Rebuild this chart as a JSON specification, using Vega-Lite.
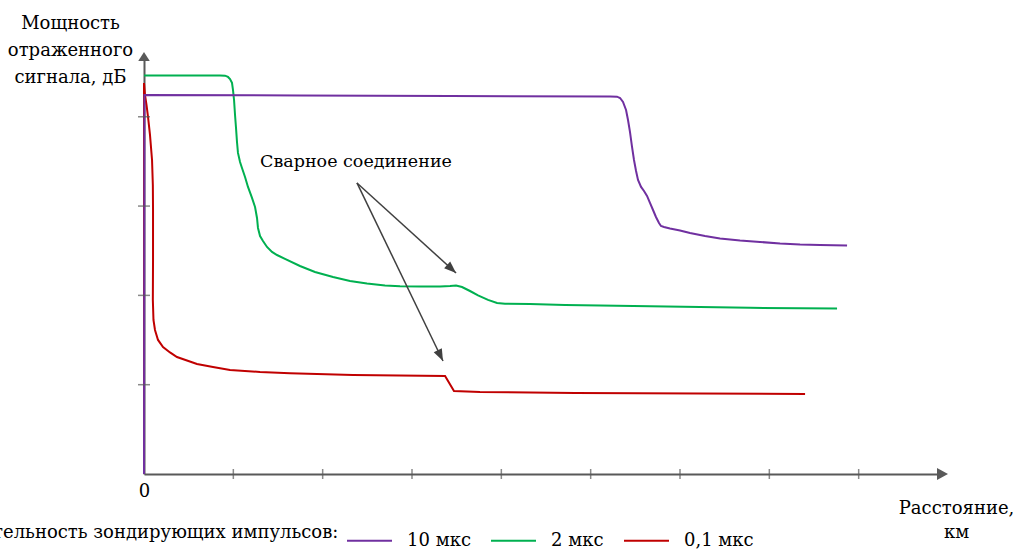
{
  "$schema": "https://vega.github.io/schema/vega-lite/v6.json",
  "width": 799,
  "height": 416,
  "autosize": {"type": "none"},
  "padding": {"left": 144, "top": 58, "right": 70, "bottom": 75},
  "background": "white",
  "config": {
    "view": {"stroke": null},
    "font": "DejaVu Serif",
    "text": {"font": "DejaVu Serif"}
  },
  "datasets": {
    "curves": [
      {"series": "2 мкс", "i": 0, "x": 0, "y": 4.462},
      {"series": "2 мкс", "i": 1, "x": 0.851, "y": 4.462},
      {"series": "2 мкс", "i": 2, "x": 0.907, "y": 4.46},
      {"series": "2 мкс", "i": 3, "x": 0.94, "y": 4.446},
      {"series": "2 мкс", "i": 4, "x": 0.963, "y": 4.423},
      {"series": "2 мкс", "i": 5, "x": 0.985, "y": 4.379},
      {"series": "2 мкс", "i": 6, "x": 0.996, "y": 4.3},
      {"series": "2 мкс", "i": 7, "x": 1.008, "y": 4.188},
      {"series": "2 мкс", "i": 8, "x": 1.019, "y": 4.02},
      {"series": "2 мкс", "i": 9, "x": 1.03, "y": 3.875},
      {"series": "2 мкс", "i": 10, "x": 1.041, "y": 3.718},
      {"series": "2 мкс", "i": 11, "x": 1.052, "y": 3.595},
      {"series": "2 мкс", "i": 12, "x": 1.075, "y": 3.494},
      {"series": "2 мкс", "i": 13, "x": 1.097, "y": 3.427},
      {"series": "2 мкс", "i": 14, "x": 1.131, "y": 3.326},
      {"series": "2 мкс", "i": 15, "x": 1.164, "y": 3.214},
      {"series": "2 мкс", "i": 16, "x": 1.209, "y": 3.091},
      {"series": "2 мкс", "i": 17, "x": 1.243, "y": 2.99},
      {"series": "2 мкс", "i": 18, "x": 1.265, "y": 2.867},
      {"series": "2 мкс", "i": 19, "x": 1.276, "y": 2.755},
      {"series": "2 мкс", "i": 20, "x": 1.299, "y": 2.665},
      {"series": "2 мкс", "i": 21, "x": 1.332, "y": 2.609},
      {"series": "2 мкс", "i": 22, "x": 1.377, "y": 2.542},
      {"series": "2 мкс", "i": 23, "x": 1.433, "y": 2.486},
      {"series": "2 мкс", "i": 24, "x": 1.489, "y": 2.452},
      {"series": "2 мкс", "i": 25, "x": 1.578, "y": 2.408},
      {"series": "2 мкс", "i": 26, "x": 1.746, "y": 2.329},
      {"series": "2 мкс", "i": 27, "x": 1.914, "y": 2.262},
      {"series": "2 мкс", "i": 28, "x": 2.116, "y": 2.206},
      {"series": "2 мкс", "i": 29, "x": 2.306, "y": 2.161},
      {"series": "2 мкс", "i": 30, "x": 2.496, "y": 2.133},
      {"series": "2 мкс", "i": 31, "x": 2.698, "y": 2.111},
      {"series": "2 мкс", "i": 32, "x": 2.866, "y": 2.102},
      {"series": "2 мкс", "i": 33, "x": 3.09, "y": 2.1},
      {"series": "2 мкс", "i": 34, "x": 3.314, "y": 2.1},
      {"series": "2 мкс", "i": 35, "x": 3.426, "y": 2.105},
      {"series": "2 мкс", "i": 36, "x": 3.493, "y": 2.111},
      {"series": "2 мкс", "i": 37, "x": 3.56, "y": 2.094},
      {"series": "2 мкс", "i": 38, "x": 3.649, "y": 2.049},
      {"series": "2 мкс", "i": 39, "x": 3.739, "y": 1.999},
      {"series": "2 мкс", "i": 40, "x": 3.851, "y": 1.949},
      {"series": "2 мкс", "i": 41, "x": 3.952, "y": 1.915},
      {"series": "2 мкс", "i": 42, "x": 4.041, "y": 1.906},
      {"series": "2 мкс", "i": 43, "x": 4.321, "y": 1.904},
      {"series": "2 мкс", "i": 44, "x": 4.713, "y": 1.893},
      {"series": "2 мкс", "i": 45, "x": 5.105, "y": 1.887},
      {"series": "2 мкс", "i": 46, "x": 5.664, "y": 1.878},
      {"series": "2 мкс", "i": 47, "x": 6.224, "y": 1.87},
      {"series": "2 мкс", "i": 48, "x": 6.784, "y": 1.861},
      {"series": "2 мкс", "i": 49, "x": 7.344, "y": 1.856},
      {"series": "2 мкс", "i": 50, "x": 7.758, "y": 1.853},

      {"series": "0,1 мкс", "i": 0, "x": 0, "y": 0},
      {"series": "0,1 мкс", "i": 1, "x": 0, "y": 4.378},
      {"series": "0,1 мкс", "i": 2, "x": 0.011, "y": 4.244},
      {"series": "0,1 мкс", "i": 3, "x": 0.028, "y": 4.132},
      {"series": "0,1 мкс", "i": 4, "x": 0.045, "y": 3.998},
      {"series": "0,1 мкс", "i": 5, "x": 0.067, "y": 3.797},
      {"series": "0,1 мкс", "i": 6, "x": 0.09, "y": 3.516},
      {"series": "0,1 мкс", "i": 7, "x": 0.099, "y": 3.236},
      {"series": "0,1 мкс", "i": 8, "x": 0.101, "y": 2.956},
      {"series": "0,1 мкс", "i": 9, "x": 0.101, "y": 2.396},
      {"series": "0,1 мкс", "i": 10, "x": 0.099, "y": 1.949},
      {"series": "0,1 мкс", "i": 11, "x": 0.106, "y": 1.725},
      {"series": "0,1 мкс", "i": 12, "x": 0.123, "y": 1.613},
      {"series": "0,1 мкс", "i": 13, "x": 0.157, "y": 1.501},
      {"series": "0,1 мкс", "i": 14, "x": 0.213, "y": 1.422},
      {"series": "0,1 мкс", "i": 15, "x": 0.291, "y": 1.361},
      {"series": "0,1 мкс", "i": 16, "x": 0.369, "y": 1.31},
      {"series": "0,1 мкс", "i": 17, "x": 0.481, "y": 1.271},
      {"series": "0,1 мкс", "i": 18, "x": 0.593, "y": 1.232},
      {"series": "0,1 мкс", "i": 19, "x": 0.772, "y": 1.198},
      {"series": "0,1 мкс", "i": 20, "x": 0.963, "y": 1.165},
      {"series": "0,1 мкс", "i": 21, "x": 1.299, "y": 1.142},
      {"series": "0,1 мкс", "i": 22, "x": 1.634, "y": 1.129},
      {"series": "0,1 мкс", "i": 23, "x": 2.34, "y": 1.109},
      {"series": "0,1 мкс", "i": 24, "x": 3.37, "y": 1.097},
      {"series": "0,1 мкс", "i": 25, "x": 3.47, "y": 0.929},
      {"series": "0,1 мкс", "i": 26, "x": 3.761, "y": 0.918},
      {"series": "0,1 мкс", "i": 27, "x": 4.825, "y": 0.907},
      {"series": "0,1 мкс", "i": 28, "x": 6.224, "y": 0.901},
      {"series": "0,1 мкс", "i": 29, "x": 7.4, "y": 0.896},

      {"series": "10 мкс", "i": 0, "x": 0, "y": 0},
      {"series": "10 мкс", "i": 1, "x": 0.005, "y": 4.244},
      {"series": "10 мкс", "i": 2, "x": 1.746, "y": 4.239},
      {"series": "10 мкс", "i": 3, "x": 3.426, "y": 4.233},
      {"series": "10 мкс", "i": 4, "x": 5.217, "y": 4.227},
      {"series": "10 мкс", "i": 5, "x": 5.295, "y": 4.225},
      {"series": "10 мкс", "i": 6, "x": 5.329, "y": 4.21},
      {"series": "10 мкс", "i": 7, "x": 5.362, "y": 4.166},
      {"series": "10 мкс", "i": 8, "x": 5.396, "y": 4.076},
      {"series": "10 мкс", "i": 9, "x": 5.418, "y": 3.964},
      {"series": "10 мкс", "i": 10, "x": 5.44, "y": 3.83},
      {"series": "10 мкс", "i": 11, "x": 5.463, "y": 3.662},
      {"series": "10 мкс", "i": 12, "x": 5.485, "y": 3.516},
      {"series": "10 мкс", "i": 13, "x": 5.508, "y": 3.393},
      {"series": "10 мкс", "i": 14, "x": 5.53, "y": 3.292},
      {"series": "10 мкс", "i": 15, "x": 5.564, "y": 3.214},
      {"series": "10 мкс", "i": 16, "x": 5.597, "y": 3.169},
      {"series": "10 мкс", "i": 17, "x": 5.631, "y": 3.113},
      {"series": "10 мкс", "i": 18, "x": 5.664, "y": 3.035},
      {"series": "10 мкс", "i": 19, "x": 5.698, "y": 2.956},
      {"series": "10 мкс", "i": 20, "x": 5.731, "y": 2.878},
      {"series": "10 мкс", "i": 21, "x": 5.765, "y": 2.811},
      {"series": "10 мкс", "i": 22, "x": 5.787, "y": 2.777},
      {"series": "10 мкс", "i": 23, "x": 5.821, "y": 2.766},
      {"series": "10 мкс", "i": 24, "x": 5.888, "y": 2.749},
      {"series": "10 мкс", "i": 25, "x": 6.0, "y": 2.727},
      {"series": "10 мкс", "i": 26, "x": 6.112, "y": 2.699},
      {"series": "10 мкс", "i": 27, "x": 6.28, "y": 2.665},
      {"series": "10 мкс", "i": 28, "x": 6.448, "y": 2.637},
      {"series": "10 мкс", "i": 29, "x": 6.672, "y": 2.615},
      {"series": "10 мкс", "i": 30, "x": 6.896, "y": 2.598},
      {"series": "10 мкс", "i": 31, "x": 7.12, "y": 2.581},
      {"series": "10 мкс", "i": 32, "x": 7.344, "y": 2.57},
      {"series": "10 мкс", "i": 33, "x": 7.567, "y": 2.564},
      {"series": "10 мкс", "i": 34, "x": 7.87, "y": 2.559}
    ],
    "xticks": [
      {"x": 1, "y": 0}, {"x": 2, "y": 0}, {"x": 3, "y": 0}, {"x": 4, "y": 0},
      {"x": 5, "y": 0}, {"x": 6, "y": 0}, {"x": 7, "y": 0}, {"x": 8, "y": 0}
    ],
    "yticks": [
      {"x": 0, "y": 1}, {"x": 0, "y": 2}, {"x": 0, "y": 3}, {"x": 0, "y": 4}
    ],
    "axisends": [
      {"axis": "x", "x": 9.0, "y": 0},
      {"axis": "y", "x": 0, "y": 4.726}
    ],
    "weld": [
      {"label": "Сварное соединение", "x": 2.373, "y": 3.438}
    ],
    "pointers": [
      {"target": "2 мкс", "x0": 2.384, "y0": 3.259, "x": 3.493, "y": 2.251},
      {"target": "0,1 мкс", "x0": 2.384, "y0": 3.259, "x": 3.347, "y": 1.265}
    ]
  },
  "encoding": {
    "x": {
      "field": "x",
      "type": "quantitative",
      "scale": {"domain": [0, 8.944], "nice": false, "zero": false},
      "axis": {
        "title": ["Расстояние,", "км"],
        "titleX": 812,
        "titleY": 39,
        "titleAlign": "center",
        "titleBaseline": "alphabetic",
        "titleFont": "DejaVu Serif",
        "titleFontSize": 18,
        "titleFontWeight": "normal",
        "titleColor": "black",
        "titleLineHeight": 24,
        "values": [0],
        "ticks": false,
        "grid": false,
        "labelFlush": false,
        "labelAlign": "center",
        "labelFont": "DejaVu Serif",
        "labelFontSize": 18,
        "labelColor": "black",
        "labelPadding": 8,
        "domainColor": "#595959",
        "domainWidth": 2
      }
    },
    "y": {
      "field": "y",
      "type": "quantitative",
      "scale": {"domain": [0, 4.658], "nice": false, "zero": false},
      "axis": {
        "title": ["Мощность", "отраженного", "сигнала, дБ"],
        "titleAngle": 0,
        "titleX": -74,
        "titleY": -30,
        "titleAlign": "center",
        "titleBaseline": "alphabetic",
        "titleFont": "DejaVu Serif",
        "titleFontSize": 18,
        "titleFontWeight": "normal",
        "titleColor": "black",
        "titleLineHeight": 27,
        "labels": false,
        "ticks": false,
        "grid": false,
        "domainColor": "#595959",
        "domainWidth": 2
      }
    }
  },
  "layer": [
    {
      "data": {"name": "curves"},
      "mark": {"type": "line", "strokeWidth": 2, "clip": false},
      "encoding": {
        "color": {
          "field": "series",
          "type": "nominal",
          "scale": {
            "domain": ["10 мкс", "2 мкс", "0,1 мкс"],
            "range": ["#7030A0", "#00B050", "#C00000"]
          },
          "legend": {
            "orient": "none",
            "direction": "horizontal",
            "legendX": -189,
            "legendY": 459,
            "title": "Длительность зондирующих импульсов:",
            "titleOrient": "left",
            "titleFont": "DejaVu Serif",
            "titleFontSize": 18,
            "titleFontWeight": "normal",
            "titleColor": "black",
            "titleLimit": 1000,
            "titlePadding": 7,
            "labelFont": "DejaVu Serif",
            "labelFontSize": 18,
            "labelColor": "black",
            "labelLimit": 300,
            "labelOffset": 14,
            "columnPadding": 16,
            "symbolType": "stroke",
            "symbolSize": 2025,
            "symbolStrokeWidth": 2
          }
        },
        "order": {"field": "i", "type": "quantitative"}
      }
    },
    {
      "data": {"name": "xticks"},
      "mark": {"type": "tick", "orient": "vertical", "size": 10, "thickness": 1.5, "color": "#595959"}
    },
    {
      "data": {"name": "yticks"},
      "mark": {"type": "tick", "orient": "horizontal", "size": 12, "thickness": 1.5, "color": "#595959"}
    },
    {
      "data": {"name": "axisends"},
      "transform": [{"filter": "datum.axis === 'x'"}],
      "mark": {"type": "point", "shape": "M0,0L-2,-1.09L-2,1.09Z", "size": 121, "filled": true, "color": "#595959", "opacity": 1, "strokeWidth": 0}
    },
    {
      "data": {"name": "axisends"},
      "transform": [{"filter": "datum.axis === 'y'"}],
      "mark": {"type": "point", "shape": "M0,0L1.15,1.8L-1.15,1.8Z", "size": 100, "filled": true, "color": "#595959", "opacity": 1, "strokeWidth": 0}
    },
    {
      "data": {"name": "pointers"},
      "mark": {"type": "rule", "strokeWidth": 1.5, "color": "#404040"},
      "encoding": {
        "x": {"field": "x0", "type": "quantitative"},
        "y": {"field": "y0", "type": "quantitative"},
        "x2": {"field": "x"},
        "y2": {"field": "y"}
      }
    },
    {
      "data": {"name": "pointers"},
      "transform": [{"filter": "datum.target === '2 мкс'"}],
      "mark": {"type": "point", "shape": "M0,0L-2,-0.75L-2,0.75Z", "size": 144, "angle": 42.3, "filled": true, "color": "#404040", "opacity": 1, "strokeWidth": 0}
    },
    {
      "data": {"name": "pointers"},
      "transform": [{"filter": "datum.target === '0,1 мкс'"}],
      "mark": {"type": "point", "shape": "M0,0L-2,-0.75L-2,0.75Z", "size": 144, "angle": 64.2, "filled": true, "color": "#404040", "opacity": 1, "strokeWidth": 0}
    },
    {
      "data": {"name": "weld"},
      "mark": {"type": "text", "font": "DejaVu Serif", "fontSize": 17.5, "align": "center", "baseline": "alphabetic", "color": "black"},
      "encoding": {
        "text": {"field": "label"}
      }
    }
  ]
}
